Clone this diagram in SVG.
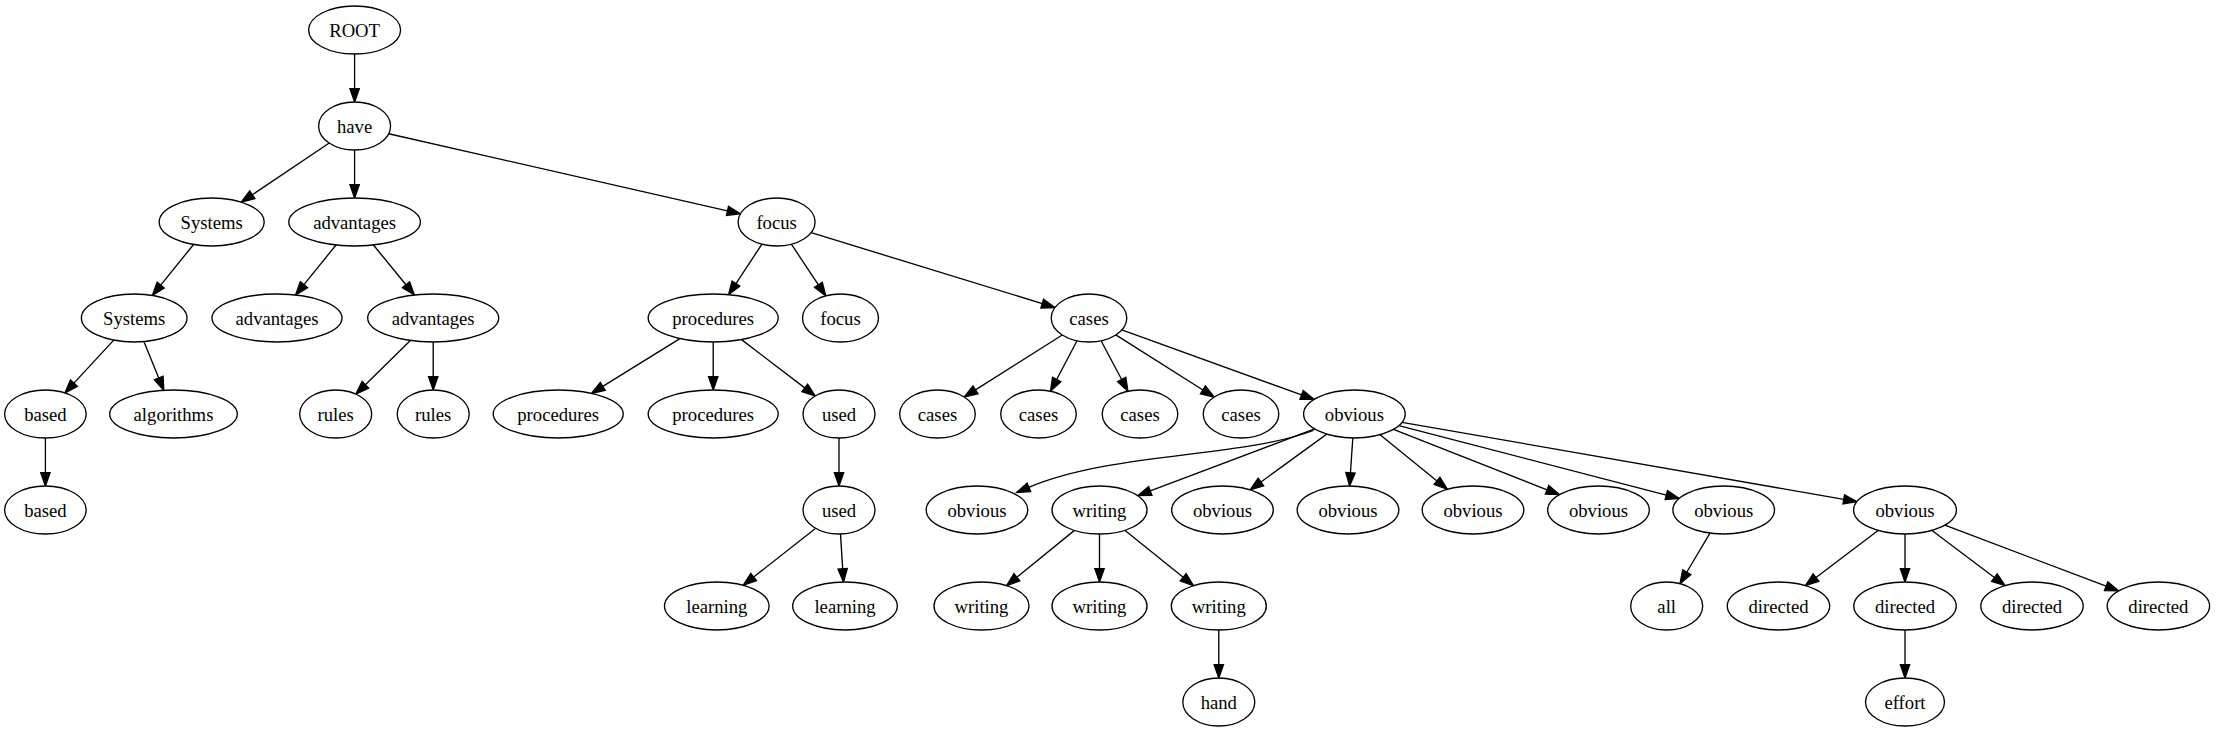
<svg xmlns="http://www.w3.org/2000/svg" width="2216" height="731" viewBox="0 0 2216 731">
<style>
.n ellipse{fill:#fff;stroke:#000;stroke-width:1.33}
.n text{font-family:"Liberation Serif","Times New Roman",serif;font-size:18.67px;text-anchor:middle;fill:#000}
.e path,.e line{fill:none;stroke:#000;stroke-width:1.33;marker-end:url(#ah)}
</style>
<defs>
<marker id="ah" markerUnits="userSpaceOnUse" markerWidth="16" markerHeight="12" refX="0" refY="4.67" orient="auto" overflow="visible">
<path d="M0,0 L13.3,4.67 L0,9.33 z" fill="#000" stroke="#000" stroke-width="1.33" stroke-linejoin="miter"/>
</marker>
</defs>
<rect width="2216" height="731" fill="#fff"/>
<g id="edges" class="e">
<line x1="354.6" y1="54" x2="354.6" y2="88.7"/>
<line x1="329.25" y1="143.03" x2="252.28" y2="194.74"/>
<line x1="354.6" y1="150" x2="354.6" y2="184.7"/>
<line x1="388.7" y1="133.75" x2="727.46" y2="210.82"/>
<line x1="193.52" y1="244.52" x2="160.74" y2="285.12"/>
<line x1="335.99" y1="245.02" x2="303.95" y2="284.66"/>
<line x1="373.43" y1="245" x2="405.95" y2="284.72"/>
<line x1="761.94" y1="244.19" x2="735.93" y2="283.58"/>
<line x1="791.36" y1="244.17" x2="818.4" y2="284.81"/>
<line x1="811.13" y1="232.61" x2="1042.26" y2="303.63"/>
<line x1="113.74" y1="340.12" x2="73.93" y2="383.16"/>
<line x1="143.86" y1="341.59" x2="158.75" y2="377.97"/>
<line x1="410.36" y1="340.49" x2="365.36" y2="384.8"/>
<line x1="433.2" y1="342" x2="433.2" y2="376.7"/>
<line x1="679.92" y1="338.61" x2="602.79" y2="386.39"/>
<line x1="713.2" y1="342" x2="713.2" y2="376.7"/>
<line x1="741.51" y1="339.6" x2="804.75" y2="387.86"/>
<line x1="1062.25" y1="334.95" x2="975.48" y2="389.93"/>
<line x1="1077.03" y1="340.76" x2="1056.66" y2="379.47"/>
<line x1="1101.08" y1="340.74" x2="1121.68" y2="379.51"/>
<line x1="1115.8" y1="334.93" x2="1202.95" y2="389.97"/>
<line x1="1121.84" y1="329.88" x2="1301.55" y2="394.89"/>
<line x1="45.4" y1="438" x2="45.4" y2="472.7"/>
<line x1="839" y1="438" x2="839" y2="472.7"/>
<path d="M1313.5,430.5 C1240,458 1111.7,452.2 1028.9,487.3"/>
<line x1="1314.68" y1="428.96" x2="1150.29" y2="490.87"/>
<line x1="1326.74" y1="434.13" x2="1260.91" y2="482.04"/>
<line x1="1352.8" y1="437.99" x2="1350.48" y2="472.74"/>
<line x1="1380.01" y1="434.73" x2="1437.05" y2="480.9"/>
<line x1="1393.44" y1="429.36" x2="1547.08" y2="489.77"/>
<line x1="1398.91" y1="425.57" x2="1666.32" y2="495.08"/>
<line x1="1402.06" y1="422.31" x2="1843.75" y2="499.32"/>
<line x1="815.71" y1="528.3" x2="753.64" y2="577.06"/>
<line x1="840.5" y1="533.98" x2="842.67" y2="568.73"/>
<line x1="1074.44" y1="530.39" x2="1016.88" y2="577.22"/>
<line x1="1099.5" y1="534" x2="1099.5" y2="568.7"/>
<line x1="1124.76" y1="530.33" x2="1183.18" y2="577.33"/>
<line x1="1709.98" y1="533.11" x2="1686.74" y2="572.24"/>
<line x1="1878.06" y1="530.44" x2="1816" y2="577.54"/>
<line x1="1905" y1="534" x2="1905" y2="568.7"/>
<line x1="1932.01" y1="530.42" x2="1994.41" y2="577.58"/>
<line x1="1944.91" y1="525.12" x2="2106.14" y2="586.2"/>
<line x1="1218.8" y1="630" x2="1218.8" y2="664.7"/>
<line x1="1905" y1="630" x2="1905" y2="664.7"/>
</g>
<g id="n0" class="n"><ellipse cx="354.6" cy="30" rx="46" ry="24"/><text x="354.6" y="36.5">ROOT</text></g>
<g id="n1" class="n"><ellipse cx="354.6" cy="126" rx="36" ry="24"/><text x="354.6" y="132.5">have</text></g>
<g id="n2" class="n"><ellipse cx="211.7" cy="222" rx="52.5" ry="24"/><text x="211.7" y="228.5">Systems</text></g>
<g id="n3" class="n"><ellipse cx="354.6" cy="222" rx="65.8" ry="24"/><text x="354.6" y="228.5">advantages</text></g>
<g id="n4" class="n"><ellipse cx="776.6" cy="222" rx="38.5" ry="24"/><text x="776.6" y="228.5">focus</text></g>
<g id="n5" class="n"><ellipse cx="134.2" cy="318" rx="52.8" ry="24"/><text x="134.2" y="324.5">Systems</text></g>
<g id="n6" class="n"><ellipse cx="277" cy="318" rx="65" ry="24"/><text x="277" y="324.5">advantages</text></g>
<g id="n7" class="n"><ellipse cx="433.2" cy="318" rx="65.5" ry="24"/><text x="433.2" y="324.5">advantages</text></g>
<g id="n8" class="n"><ellipse cx="713.2" cy="318" rx="65" ry="24"/><text x="713.2" y="324.5">procedures</text></g>
<g id="n9" class="n"><ellipse cx="840.5" cy="318" rx="38" ry="24"/><text x="840.5" y="324.5">focus</text></g>
<g id="n10" class="n"><ellipse cx="1089" cy="318" rx="37.8" ry="24"/><text x="1089" y="324.5">cases</text></g>
<g id="n11" class="n"><ellipse cx="45.4" cy="414" rx="40.8" ry="24"/><text x="45.4" y="420.5">based</text></g>
<g id="n12" class="n"><ellipse cx="173.5" cy="414" rx="63.8" ry="24"/><text x="173.5" y="420.5">algorithms</text></g>
<g id="n13" class="n"><ellipse cx="335.7" cy="414" rx="36" ry="24"/><text x="335.7" y="420.5">rules</text></g>
<g id="n14" class="n"><ellipse cx="433.2" cy="414" rx="36" ry="24"/><text x="433.2" y="420.5">rules</text></g>
<g id="n15" class="n"><ellipse cx="558.2" cy="414" rx="65" ry="24"/><text x="558.2" y="420.5">procedures</text></g>
<g id="n16" class="n"><ellipse cx="713.2" cy="414" rx="65" ry="24"/><text x="713.2" y="420.5">procedures</text></g>
<g id="n17" class="n"><ellipse cx="839" cy="414" rx="36" ry="24"/><text x="839" y="420.5">used</text></g>
<g id="n18" class="n"><ellipse cx="937.5" cy="414" rx="37.8" ry="24"/><text x="937.5" y="420.5">cases</text></g>
<g id="n19" class="n"><ellipse cx="1038.5" cy="414" rx="37.8" ry="24"/><text x="1038.5" y="420.5">cases</text></g>
<g id="n20" class="n"><ellipse cx="1140" cy="414" rx="37.8" ry="24"/><text x="1140" y="420.5">cases</text></g>
<g id="n21" class="n"><ellipse cx="1241" cy="414" rx="37.8" ry="24"/><text x="1241" y="420.5">cases</text></g>
<g id="n22" class="n"><ellipse cx="1354.4" cy="414" rx="50.8" ry="24"/><text x="1354.4" y="420.5">obvious</text></g>
<g id="n23" class="n"><ellipse cx="45.4" cy="510" rx="40.8" ry="24"/><text x="45.4" y="516.5">based</text></g>
<g id="n24" class="n"><ellipse cx="839" cy="510" rx="36" ry="24"/><text x="839" y="516.5">used</text></g>
<g id="n25" class="n"><ellipse cx="977" cy="510" rx="50.8" ry="24"/><text x="977" y="516.5">obvious</text></g>
<g id="n26" class="n"><ellipse cx="1099.5" cy="510" rx="47.5" ry="24"/><text x="1099.5" y="516.5">writing</text></g>
<g id="n27" class="n"><ellipse cx="1222.5" cy="510" rx="50.8" ry="24"/><text x="1222.5" y="516.5">obvious</text></g>
<g id="n28" class="n"><ellipse cx="1348" cy="510" rx="50.8" ry="24"/><text x="1348" y="516.5">obvious</text></g>
<g id="n29" class="n"><ellipse cx="1473" cy="510" rx="50.8" ry="24"/><text x="1473" y="516.5">obvious</text></g>
<g id="n30" class="n"><ellipse cx="1598.5" cy="510" rx="50.8" ry="24"/><text x="1598.5" y="516.5">obvious</text></g>
<g id="n31" class="n"><ellipse cx="1723.7" cy="510" rx="50.8" ry="24"/><text x="1723.7" y="516.5">obvious</text></g>
<g id="n32" class="n"><ellipse cx="1905" cy="510" rx="51.4" ry="24"/><text x="1905" y="516.5">obvious</text></g>
<g id="n33" class="n"><ellipse cx="716.8" cy="606" rx="52.3" ry="24"/><text x="716.8" y="612.5">learning</text></g>
<g id="n34" class="n"><ellipse cx="845" cy="606" rx="52.3" ry="24"/><text x="845" y="612.5">learning</text></g>
<g id="n35" class="n"><ellipse cx="981.5" cy="606" rx="47.5" ry="24"/><text x="981.5" y="612.5">writing</text></g>
<g id="n36" class="n"><ellipse cx="1099.5" cy="606" rx="47.5" ry="24"/><text x="1099.5" y="612.5">writing</text></g>
<g id="n37" class="n"><ellipse cx="1218.8" cy="606" rx="47.5" ry="24"/><text x="1218.8" y="612.5">writing</text></g>
<g id="n38" class="n"><ellipse cx="1666.7" cy="606" rx="36" ry="24"/><text x="1666.7" y="612.5">all</text></g>
<g id="n39" class="n"><ellipse cx="1778.5" cy="606" rx="51.2" ry="24"/><text x="1778.5" y="612.5">directed</text></g>
<g id="n40" class="n"><ellipse cx="1905" cy="606" rx="51.2" ry="24"/><text x="1905" y="612.5">directed</text></g>
<g id="n41" class="n"><ellipse cx="2032" cy="606" rx="51.2" ry="24"/><text x="2032" y="612.5">directed</text></g>
<g id="n42" class="n"><ellipse cx="2158.4" cy="606" rx="51.2" ry="24"/><text x="2158.4" y="612.5">directed</text></g>
<g id="n43" class="n"><ellipse cx="1218.8" cy="702" rx="36" ry="24"/><text x="1218.8" y="708.5">hand</text></g>
<g id="n44" class="n"><ellipse cx="1905" cy="702" rx="39.5" ry="24"/><text x="1905" y="708.5">effort</text></g>
</svg>
